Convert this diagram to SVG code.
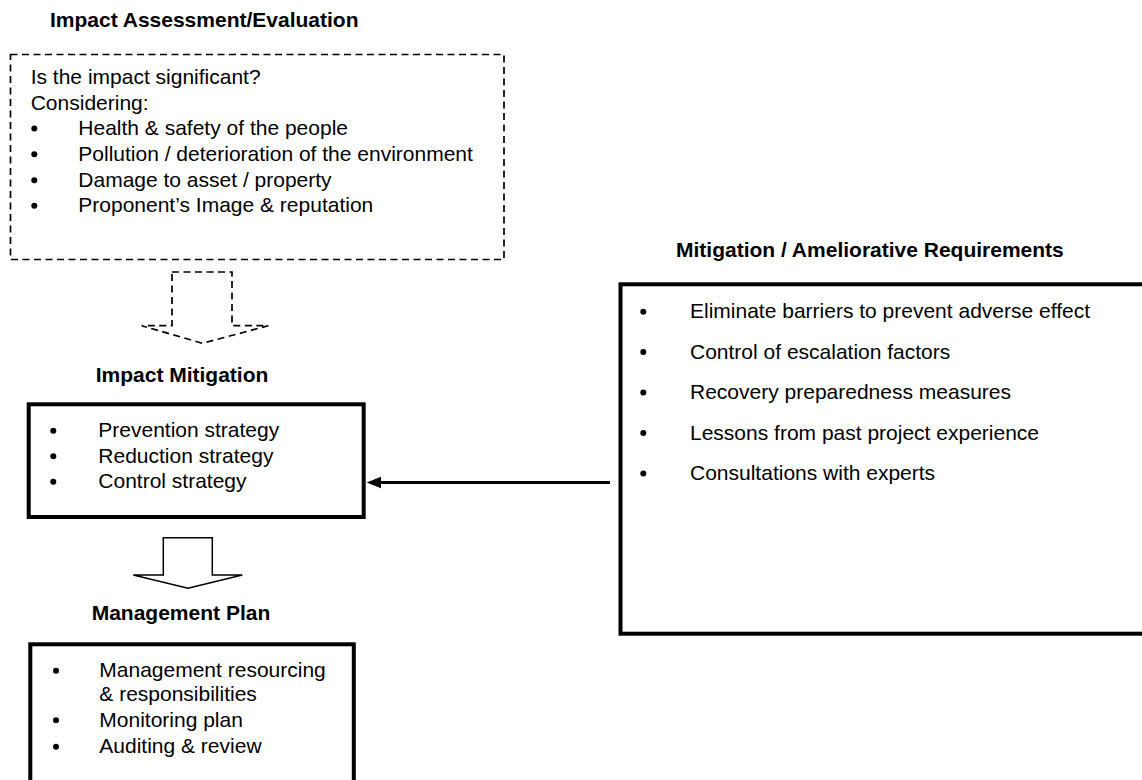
<svg xmlns="http://www.w3.org/2000/svg" width="1142" height="780" viewBox="0 0 1142 780">
<style>
  .t { font-family: "Liberation Sans", Arial, sans-serif; font-size: 21px; fill: #000; }
  .b { font-weight: bold; }
  .dash { fill: none; stroke: #000; stroke-width: 1.7; stroke-dasharray: 7 4.5; }
  .box { fill: none; stroke: #000; stroke-width: 4; }
  .blk { fill: #fff; stroke: #000; stroke-width: 1.5; stroke-linejoin: miter; }
  .dot { fill: #000; }
</style>
<rect width="1142" height="780" fill="#fff"/>

<g id="assessment">
  <text class="t b" x="50" y="26.7">Impact Assessment/Evaluation</text>
  <rect class="dash" x="10.5" y="54.5" width="493.5" height="205"/>
  <text class="t" x="30.7" y="84">Is the impact significant?</text>
  <text class="t" x="30.7" y="109.5">Considering:</text>
  <circle class="dot" cx="34.3" cy="128.5" r="3"/>
  <text class="t" x="78.3" y="135">Health &amp; safety of the people</text>
  <circle class="dot" cx="34.3" cy="154.2" r="3"/>
  <text class="t" x="78.3" y="160.7">Pollution / deterioration of the environment</text>
  <circle class="dot" cx="34.3" cy="180.2" r="3"/>
  <text class="t" x="78.3" y="186.7">Damage to asset / property</text>
  <circle class="dot" cx="34.3" cy="205.8" r="3"/>
  <text class="t" x="78.3" y="212.3">Proponent’s Image &amp; reputation</text>
</g>

<g id="mitigation">
  <text class="t b" x="95.7" y="381.7">Impact Mitigation</text>
  <rect class="box" x="28.7" y="404.3" width="335" height="112.7"/>
  <circle class="dot" cx="53.3" cy="430.8" r="3"/>
  <text class="t" x="98.3" y="437.3">Prevention strategy</text>
  <circle class="dot" cx="53.3" cy="456.2" r="3"/>
  <text class="t" x="98.3" y="462.7">Reduction strategy</text>
  <circle class="dot" cx="53.3" cy="481.8" r="3"/>
  <text class="t" x="98.3" y="488.3">Control strategy</text>
</g>

<g id="management">
  <text class="t b" x="91.7" y="620">Management Plan</text>
  <rect class="box" x="30.3" y="644.3" width="323.5" height="200"/>
  <circle class="dot" cx="56" cy="670.8" r="3"/>
  <text class="t" x="99.3" y="677.3">Management resourcing</text>
  <text class="t" x="99.3" y="700.5">&amp; responsibilities</text>
  <circle class="dot" cx="56" cy="720.2" r="3"/>
  <text class="t" x="99.3" y="726.7">Monitoring plan</text>
  <circle class="dot" cx="56" cy="746.8" r="3"/>
  <text class="t" x="99.3" y="753.3">Auditing &amp; review</text>
</g>

<g id="requirements">
  <text class="t b" x="676" y="256.7">Mitigation / Ameliorative Requirements</text>
  <rect class="box" x="620.5" y="284.3" width="600" height="349.4"/>
  <circle class="dot" cx="643.3" cy="311.8" r="3"/>
  <text class="t" x="690" y="318.3">Eliminate barriers to prevent adverse effect</text>
  <circle class="dot" cx="643.3" cy="352" r="3"/>
  <text class="t" x="690" y="358.5">Control of escalation factors</text>
  <circle class="dot" cx="643.3" cy="392.5" r="3"/>
  <text class="t" x="690" y="399">Recovery preparedness measures</text>
  <circle class="dot" cx="643.3" cy="433" r="3"/>
  <text class="t" x="690" y="439.5">Lessons from past project experience</text>
  <circle class="dot" cx="643.3" cy="473.5" r="3"/>
  <text class="t" x="690" y="480">Consultations with experts</text>
</g>

<g id="connectors">
  <path class="dash" d="M172,272 H232 V325.7 H268.3 L202.5,343.3 L141.7,325.7 H172 Z"/>
  <path class="blk" d="M163.3,537.7 H212.3 V575 H242.3 L188,588.3 L133.3,575 H163.3 Z"/>
  <line x1="610" y1="482.5" x2="378" y2="482.5" stroke="#000" stroke-width="3"/>
  <polygon points="366.7,482.5 381,476.8 381,488.2" fill="#000"/>
</g>
</svg>
